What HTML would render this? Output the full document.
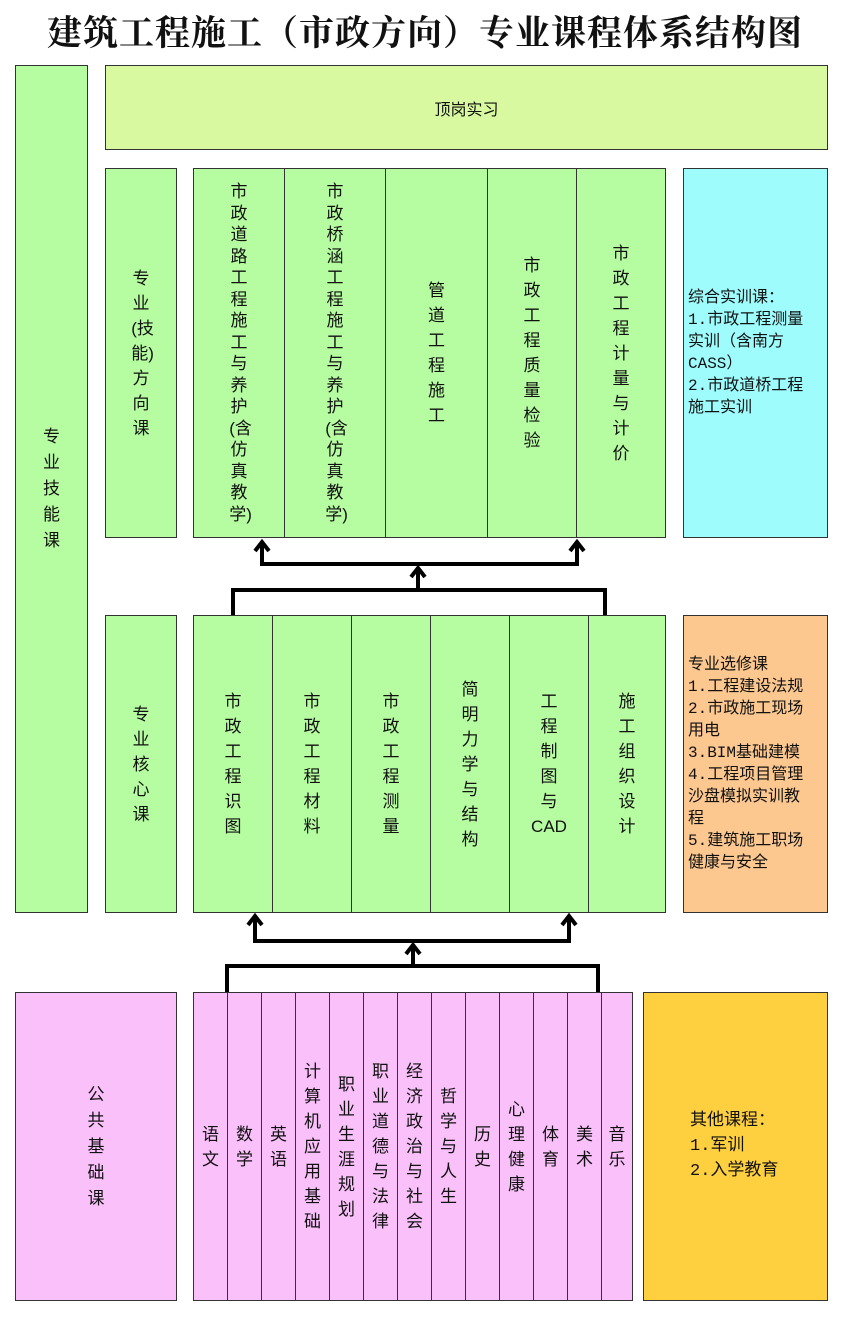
<!DOCTYPE html>
<html><head><meta charset="utf-8"><style>
*{margin:0;padding:0;box-sizing:border-box}
body{width:850px;height:1330px;background:#fff;position:relative;font-family:"Liberation Sans","Noto Sans CJK SC",sans-serif;color:#111;overflow:hidden}
.b{position:absolute;border:1.5px solid #333;display:flex;align-items:center;justify-content:center}
.g{background:#b6fca0}
.v{width:1.15em;text-align:center;line-height:25px;font-size:17px;word-break:break-all}
.t{line-height:21.5px}
.row{position:absolute;display:flex;border:1.5px solid #333}
.row>div{display:flex;align-items:center;justify-content:center;border-right:1.5px solid #333;height:100%}
.row>div:last-child{border-right:none}
.h{font-size:16px;line-height:22px;padding-left:4px;font-family:"Liberation Mono","Noto Sans CJK SC",monospace}
</style></head><body>
<div style="position:absolute;left:0;top:6px;width:850px;text-align:center;font-size:35px;font-weight:bold;font-family:'Noto Serif CJK SC',serif;letter-spacing:1px">建筑工程施工（市政方向）专业课程体系结构图</div>

<div class="b g" style="left:15px;top:65px;width:73px;height:848px"><div class="v" style="line-height:26px">专业技能课</div></div>
<div class="b" style="left:105px;top:65px;width:723px;height:85px;background:#d9f9a0;font-size:16px">顶岗实习</div>
<div class="b g" style="left:105px;top:168px;width:72px;height:370px"><div class="v">专业(技能)方向课</div></div>

<div class="row g" style="left:193px;top:168px;width:473px;height:370px">
<div style="width:91px"><div class="v t">市政道路工程施工与养护(含仿真教学)</div></div>
<div style="width:101px"><div class="v t">市政桥涵工程施工与养护(含仿真教学)</div></div>
<div style="width:102px"><div class="v">管道工程施工</div></div>
<div style="width:89px"><div class="v">市政工程质量检验</div></div>
<div style="flex:1"><div class="v">市政工程计量与计价</div></div>
</div>
<div class="b" style="left:683px;top:168px;width:145px;height:370px;background:#9ffcfc;justify-content:flex-start"><div class="h">综合实训课：<br>1.市政工程测量<br>实训（含南方<br>CASS）<br>2.市政道桥工程<br>施工实训</div></div>

<div class="b g" style="left:105px;top:615px;width:72px;height:298px"><div class="v">专业核心课</div></div>
<div class="row g" style="left:193px;top:615px;width:473px;height:298px">
<div style="width:79px"><div class="v">市政工程识图</div></div>
<div style="width:79px"><div class="v">市政工程材料</div></div>
<div style="width:79px"><div class="v">市政工程测量</div></div>
<div style="width:79px"><div class="v">简明力学与结构</div></div>
<div style="width:79px"><div style="text-align:center;line-height:25px;font-size:17px;width:40px">工<br>程<br>制<br>图<br>与<br>CAD</div></div>
<div style="flex:1"><div class="v">施工组织设计</div></div>
</div>
<div class="b" style="left:683px;top:615px;width:145px;height:298px;background:#fcc890;justify-content:flex-start"><div class="h">专业选修课<br>1.工程建设法规<br>2.市政施工现场<br>用电<br>3.BIM基础建模<br>4.工程项目管理<br>沙盘模拟实训教<br>程<br>5.建筑施工职场<br>健康与安全</div></div>

<div class="b" style="left:15px;top:992px;width:162px;height:309px;background:#f9c0f9"><div class="v" style="line-height:26px">公共基础课</div></div>
<div class="row" style="left:193px;top:992px;width:440px;height:309px;background:#f9c0f9">
<div style="width:34px"><div class="v">语文</div></div>
<div style="width:34px"><div class="v">数学</div></div>
<div style="width:34px"><div class="v">英语</div></div>
<div style="width:34px"><div class="v">计算机应用基础</div></div>
<div style="width:34px"><div class="v">职业生涯规划</div></div>
<div style="width:34px"><div class="v">职业道德与法律</div></div>
<div style="width:34px"><div class="v">经济政治与社会</div></div>
<div style="width:34px"><div class="v">哲学与人生</div></div>
<div style="width:34px"><div class="v">历史</div></div>
<div style="width:34px"><div class="v">心理健康</div></div>
<div style="width:34px"><div class="v">体育</div></div>
<div style="width:34px"><div class="v">美术</div></div>
<div style="flex:1"><div class="v">音乐</div></div>
</div>
<div class="b" style="left:643px;top:992px;width:185px;height:309px;background:#fed040;justify-content:flex-start"><div style="padding-left:46px;font-size:17px;line-height:25px;font-family:'Liberation Mono','Noto Sans CJK SC',monospace">其他课程：<br>1.军训<br>2.入学教育</div></div>

<svg style="position:absolute;left:0;top:0" width="850" height="1330" fill="none" stroke="#000" stroke-width="4" stroke-linejoin="miter">
<path d="M262 542V564H577V542M418 590V567M233 615V590H605V615"/>
<path d="M255 551l7-9 7 9M570 551l7-9 7 9M411 577l7-9 7 9"/>
<path d="M255 916V941H569V916M413 966V944M227 992V966H598V992"/>
<path d="M248 925l7-9 7 9M562 925l7-9 7 9M406 954l7-9 7 9"/>
</svg>
</body></html>
